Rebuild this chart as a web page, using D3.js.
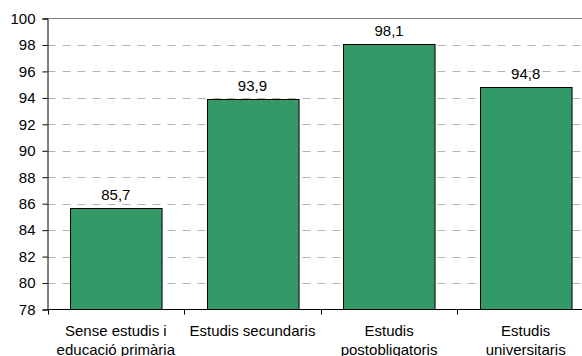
<!DOCTYPE html>
<html>
<head>
<meta charset="utf-8">
<script src="https://cdn.jsdelivr.net/npm/d3@7"></script>
<style>
html,body{margin:0;padding:0;background:#fff;}
svg{display:block;}
text{font-family:"Liberation Sans",Arial,sans-serif;font-size:15px;fill:#000;}
</style>
</head>
<body>
<svg id="chart" width="582" height="356"></svg>
<script>
const categories = [["Sense estudis i","educació primària"],["Estudis secundaris"],["Estudis","postobligatoris"],["Estudis","universitaris"]];
const values = [85.7, 93.9, 98.1, 94.8];
const valueLabels = ["85,7","93,9","98,1","94,8"];
const yTicks = [78,80,82,84,86,88,90,92,94,96,98,100];

(function(){
const svg = d3.select("#chart");
const mLeft = 47.5, mRight = 594, mTop = 18.5, mBottom = 309.5;

const x = d3.scaleBand().domain(d3.range(values.length)).range([mLeft, mRight]).paddingInner(0.33).paddingOuter(0.165);
const y = d3.scaleLinear().domain([78,100]).range([mBottom, mTop]);

// gridlines
svg.append("g").selectAll("line").data(yTicks.filter(t => t > 78 && t < 100)).join("line")
  .attr("x1", mLeft).attr("x2", 582)
  .attr("y1", d => Math.round(y(d)) + 0.5).attr("y2", d => Math.round(y(d)) + 0.5)
  .attr("stroke", "#b3b3b3").attr("stroke-width", 1).attr("stroke-dasharray", "8,7");
// top border
svg.append("line").attr("x1", mLeft).attr("x2", 582).attr("y1", mTop).attr("y2", mTop)
  .attr("stroke", "#808080").attr("stroke-width", 1);

// bars
svg.append("g").selectAll("rect").data(values).join("rect")
  .attr("x", (d,i) => Math.round(x(i)) + 0.5)
  .attr("width", x.bandwidth())
  .attr("y", d => Math.round(y(d)) + 0.5)
  .attr("height", d => mBottom - Math.round(y(d)) - 0.5)
  .attr("fill", "#339966").attr("stroke", "#000").attr("stroke-width", 1);

// value labels
svg.append("g").selectAll("text").data(values).join("text")
  .attr("x", (d,i) => x(i) + x.bandwidth()/2)
  .attr("y", d => y(d) - 8)
  .attr("text-anchor", "middle")
  .text((d,i) => valueLabels[i]);

// y axis
const yAxis = d3.axisLeft(y).tickValues(yTicks).tickSize(5).tickPadding(7).tickFormat(d3.format("d"));
const gy = svg.append("g").attr("transform", `translate(${mLeft},0)`).call(yAxis);
gy.select(".domain").attr("stroke", "#000");
gy.selectAll(".tick line").attr("stroke", "#000");
gy.selectAll("text").style("font-size", "15px").style("font-family", "Liberation Sans, Arial, sans-serif").attr("fill", "#000");

// x axis
const xStep = x.step();
const gx = svg.append("g");
gx.append("line").attr("x1", mLeft).attr("x2", 582).attr("y1", mBottom).attr("y2", mBottom).attr("stroke", "#000");
gx.selectAll("line.tk").data(d3.range(values.length + 1)).join("line").attr("class","tk")
  .attr("x1", i => Math.round(mLeft + i * xStep) + 0.5).attr("x2", i => Math.round(mLeft + i * xStep) + 0.5)
  .attr("y1", mBottom).attr("y2", mBottom + 5).attr("stroke", "#000");

// category labels
const cl = svg.append("g").selectAll("text").data(categories).join("text")
  .attr("text-anchor", "middle")
  .attr("x", (d,i) => x(i) + x.bandwidth()/2)
  .attr("y", 336);
cl.selectAll("tspan").data(d => d).join("tspan")
  .attr("x", function(){ return this.parentNode.getAttribute("x"); })
  .attr("dy", (d,j) => j === 0 ? 0 : 19)
  .text(d => d);
})();
</script>
</body>
</html>
